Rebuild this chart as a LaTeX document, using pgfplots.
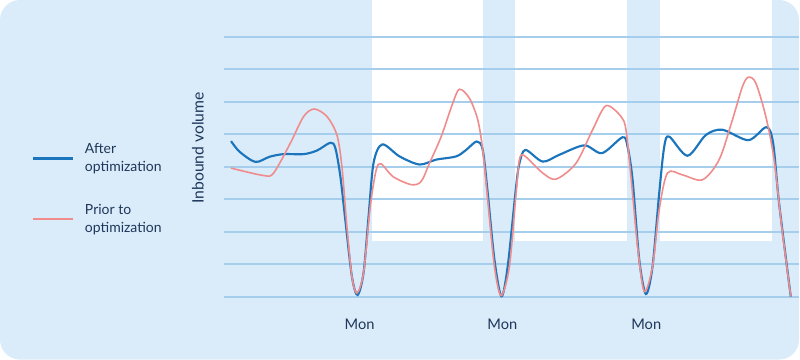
\documentclass[border=0pt]{standalone}
\usepackage{pgfplots}
\pgfplotsset{compat=1.18}
\usepackage{fontspec}
\setmainfont{Lato}
\definecolor{bgblue}{RGB}{218,235,249}
\definecolor{gridblue}{RGB}{164,206,235}
\definecolor{lineblue}{RGB}{27,117,188}
\definecolor{linered}{RGB}{240,140,140}
\definecolor{txt}{RGB}{30,55,90}
\begin{document}
\begin{tikzpicture}
\begin{axis}[
  set layers,
  scale only axis,
  width=432pt, height=195pt,
  xmin=0, xmax=576, ymin=0, ymax=8,
  clip=false,
  axis line style={draw=none},
  tick style={draw=none},
  ytick={0,1,...,8}, yticklabels={},
  ymajorgrids,
  grid style={gridblue, line width=1.4pt},
  xtick={136,279,423}, xticklabels={Mon,Mon,Mon},
  xticklabel style={font=\fontsize{11}{13}\selectfont, text=txt, yshift=-13.5pt},
  ylabel={Inbound volume},
  every axis y label/.style={at={(rel axis cs:-0.0451,0.5725)}, rotate=90, anchor=center, font=\fontsize{11.8}{13}\selectfont, text=txt},
  legend style={at={(rel axis cs:-0.3333,0.415)}, anchor=west, draw=none, fill=none, inner sep=0pt,
    column sep=6pt, row sep=19pt, cells={anchor=west, align=left},
    font=\fontsize{10.5}{13.5}\selectfont, text=txt},
  legend image code/.code={\draw[#1] (0pt,0pt) -- (30pt,0pt);},
]
\begin{pgfonlayer}{axis background}
\fill[bgblue, rounded corners=15pt] (axis cs:-224,-1.938) rectangle (axis cs:576,9.138);
\fill[white] (axis cs:148,1.723) rectangle (axis cs:260,9.138);
\fill[white] (axis cs:292,1.723) rectangle (axis cs:404,9.138);
\fill[white] (axis cs:437,1.723) rectangle (axis cs:549,9.138);
\end{pgfonlayer}
\addplot[lineblue, line width=1.6pt, smooth, tension=0.5] coordinates {
(7.3,4.79) (16,4.46) (31.7,4.15) (46,4.31) (60,4.39) (80,4.39) (93.3,4.50) (106.7,4.74)
(111.7,4.58) (116.7,3.72) (121.7,2.37) (128.3,0.62) (134,0.05) (140,0.74) (145,2.47)
(150,4.12) (158.7,4.69) (176,4.32) (196,4.07) (212.7,4.22) (232.7,4.32) (242.7,4.52)
(253.3,4.78) (259.3,4.52) (264.3,3.19) (271,1.14) (278,0.01) (284.3,0.93) (292.7,3.39)
(296,4.1) (302,4.52) (319.3,4.16) (336,4.37) (361,4.66) (378.7,4.42) (399.3,4.91)
(404.3,4.62) (409.3,3.60) (416,1.14) (422.7,0.08) (429.3,0.93) (436,3.19) (441,4.62)
(446,4.93) (464.3,4.34) (482.7,4.98) (499.3,5.14) (525.3,4.82) (543.3,5.22) (550,4.73)
(556,2.88) (567.7,0.0)
};
\addlegendentry{After\\optimization}
\addplot[linered, line width=1.2pt, smooth, tension=0.5] coordinates {
(7.3,3.96) (40,3.73) (50,3.81) (66.7,4.73) (80,5.55) (90.7,5.78) (103.3,5.55) (113.3,4.98)
(118.3,4.01) (123.3,2.16) (128.3,0.62) (133.3,0.11) (140,0.74) (146.7,2.78) (152.7,3.91)
(157.7,4.09) (169.3,3.70) (187.7,3.45) (197.7,3.55) (206,4.11) (217.7,4.93) (229.3,5.96)
(236,6.39) (246,6.11) (254.3,5.45) (259.3,4.52) (264.3,2.98) (271,0.93) (277.7,0.03)
(286,0.93) (292.7,3.19) (296,4.22) (301,4.34) (319.3,3.81) (332.7,3.62) (352.7,4.11)
(369.3,5.14) (382.7,5.88) (397.7,5.55) (402.7,5.14) (407.7,3.70) (414.3,1.55) (421,0.16)
(429.3,0.93) (436,2.68) (444.3,3.81) (459.3,3.75) (479.3,3.60) (496,4.22) (509.3,5.45)
(519.3,6.47) (525.3,6.76) (532.7,6.58) (542.7,5.55) (551,4.22) (559,2.06) (567.7,0.0)
};
\addlegendentry{Prior to\\optimization}
\end{axis}
\end{tikzpicture}
\end{document}
